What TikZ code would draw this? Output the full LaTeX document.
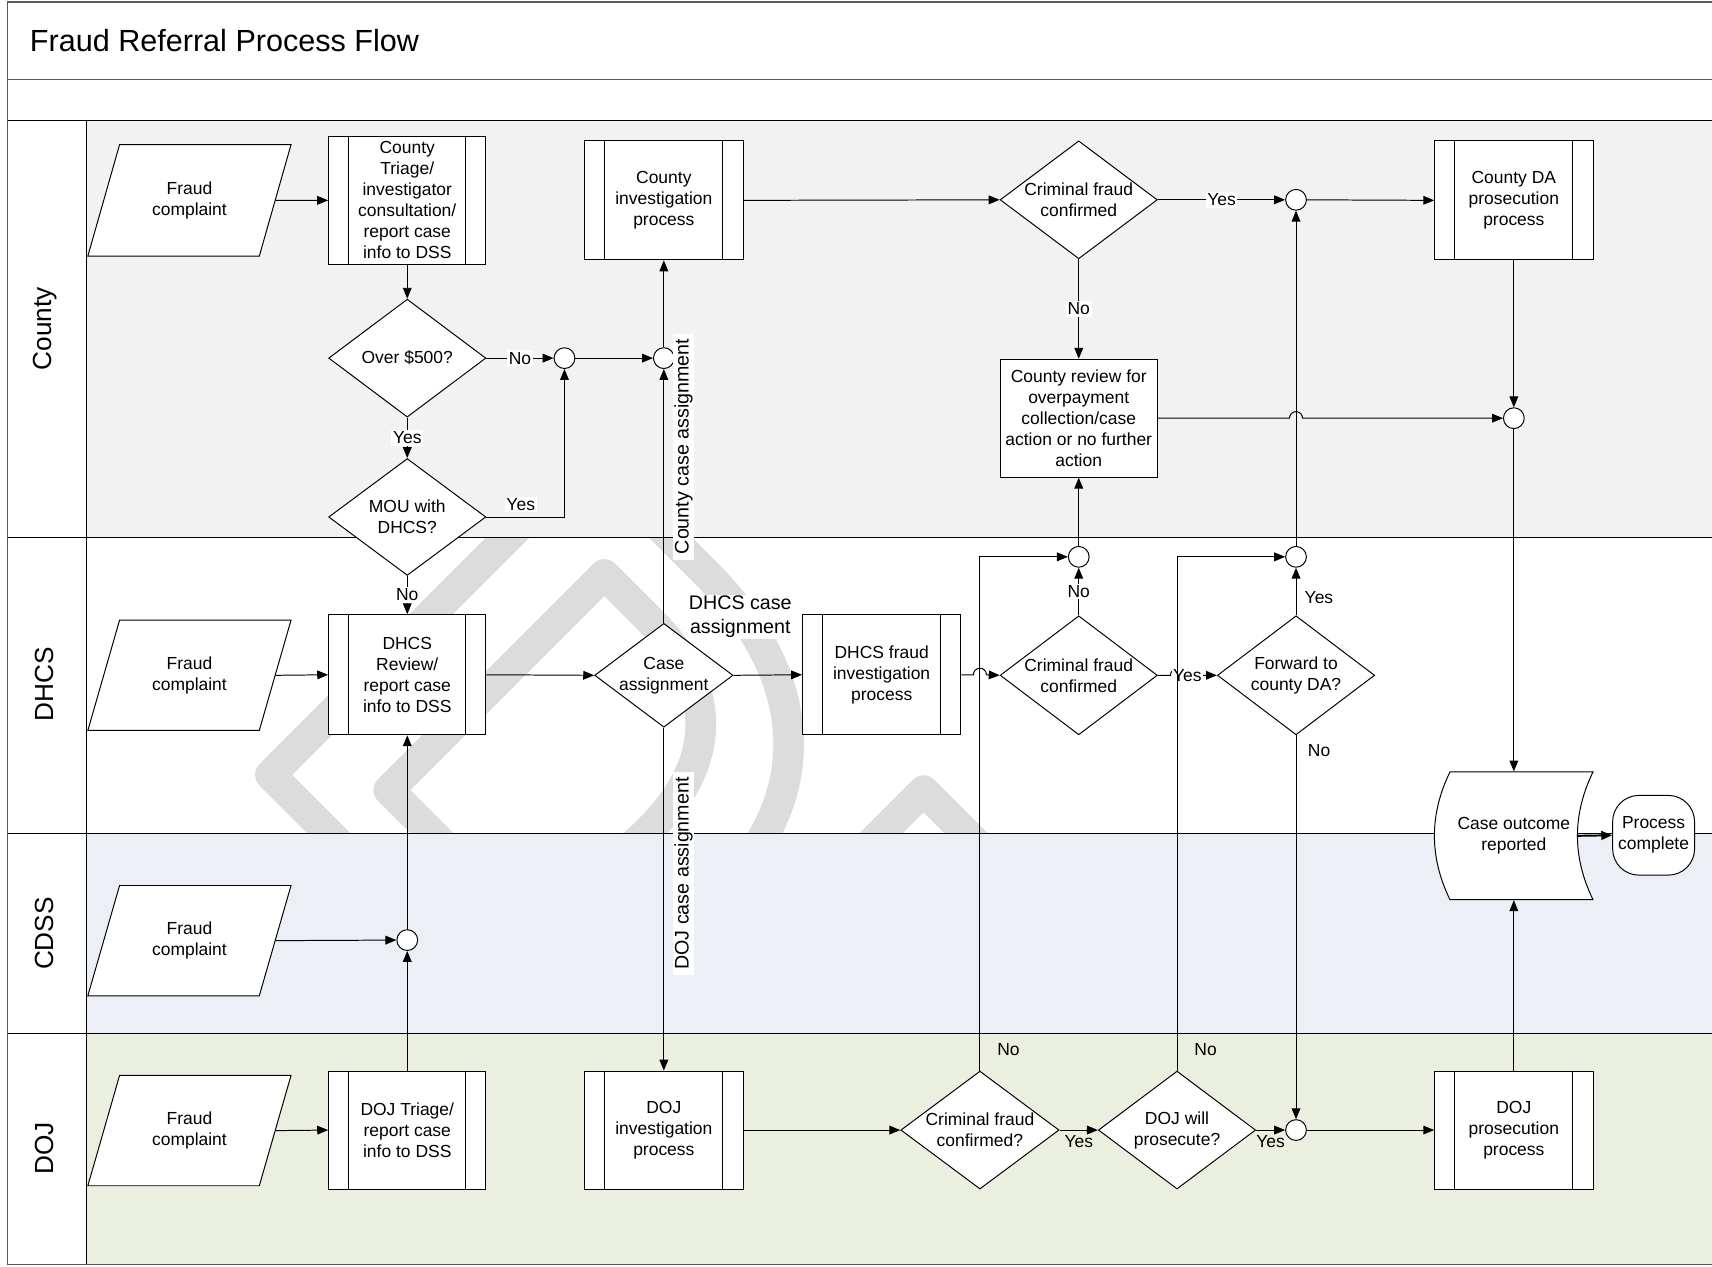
\documentclass[tikz,border=0pt]{standalone}
\usepackage{fontspec}
\setmainfont{Liberation Sans}
\usetikzlibrary{shapes.geometric,arrows.meta,calc}

\definecolor{countybg}{RGB}{242,242,242}
\definecolor{cdssbg}{RGB}{236,240,246}
\definecolor{dojbg}{RGB}{235,239,224}
\definecolor{wmgray}{RGB}{220,220,220}
\definecolor{framegray}{RGB}{90,90,90}

\newcommand{\nodefont}{\fontsize{16}{19.2}\selectfont}
\newcommand{\outlinetext}[1]{\special{pdf:literal direct 1 Tr 28 w 1 j 1 J 0.863 0.863 0.863 RG}#1\special{pdf:literal direct 0 Tr}}

\begin{document}
\begin{tikzpicture}[x=1pt,y=-1pt,line width=0.9pt,
  proc/.style={draw,fill=white,font=\nodefont,align=center,inner sep=0pt,
    minimum width=145pt,minimum height=109pt},
  dec/.style={diamond,aspect=1.333,draw,fill=white,font=\nodefont,align=center,
    inner sep=0pt,minimum width=144pt,minimum height=108pt},
  io/.style={trapezium,trapezium left angle=65.5,trapezium right angle=114.5,
    trapezium stretches=true,draw,fill=white,font=\nodefont,align=center,
    inner sep=0pt,minimum width=187pt,minimum height=102pt},
  jn/.style={circle,draw,fill=white,inner sep=0pt,minimum size=19pt},
  term/.style={draw,fill=white,rounded corners=24pt,font=\nodefont,align=center,
    inner sep=0pt,minimum width=75pt,minimum height=73pt},
  arr/.style={-{Triangle[length=10pt,width=8pt]}},
  lbl/.style={font=\nodefont,fill=white,inner sep=1.5pt},
  lblt/.style={font=\nodefont,inner sep=1.5pt},
  biglbl/.style={font=\fontsize{18}{21.6}\selectfont,fill=white,align=center,inner sep=1pt},
  vlbl/.style={font=\fontsize{18}{21.6}\selectfont,fill=white,rotate=90,inner xsep=5pt,inner ysep=1pt},
  lanelbl/.style={font=\fontsize{24}{28}\selectfont,rotate=90},
  wmark/.style={text=wmgray,font=\fontsize{600}{600}\selectfont\bfseries,inner sep=0pt}]

\useasboundingbox (0,0) rectangle (1568,1160);

% watermark, only seen in the white lane
\begin{scope}
  \clip (79,492) rectangle (1568,763);
  \node[wmark,rotate=-45,anchor=base west] (draft) at (219,681) {\outlinetext{DRAFT}};
\end{scope}

% lanes
\fill[countybg] (79,110) rectangle (1568,492);
\fill[cdssbg] (79,763) rectangle (1568,947);
\fill[dojbg] (79,947) rectangle (1568,1158);
\draw[framegray,line width=1.3pt] (1568,2) -- (7,2) -- (7,1158) -- (1568,1158);
\draw[framegray,line width=1.3pt] (7,73) -- (1568,73);
\draw[line width=1.1pt] (7,110) -- (1568,110);
\draw (79,110) -- (79,1158);
\foreach \y in {492,763,947}
  \draw (7,\y) -- (1568,\y);

\node[anchor=west,inner sep=0pt,font=\fontsize{28}{33}\selectfont] (title) at (27,37) {Fraud Referral Process Flow};
\node[lanelbl] (lcounty) at (41,301) {County};
\node[lanelbl] (ldhcs) at (41,627) {DHCS};
\node[lanelbl] (lcdss) at (41,855) {CDSS};
\node[lanelbl] (ldoj) at (41,1052) {DOJ};

% County
\node[io] (cfc) at (173.5,183.5) {Fraud\\complaint};
\node[proc,minimum width=144pt,minimum height=117pt] (ctri) at (373,183.5)
  {County\\Triage/\\investigator\\consultation/\\report case\\info to DSS};
\node[proc] (cinv) at (608,183.5) {County\\investigation\\process};
\node[dec] (ccrim) at (988,183) {Criminal fraud\\confirmed};
\node[jn] (cj1) at (1187,183) {};
\node[proc] (cda) at (1386.5,183.5) {County DA\\prosecution\\process};
\node[dec] (cover) at (373,328) {Over \$500?};
\node[jn] (cj2) at (517,328) {};
\node[jn] (cj3) at (608,328) {};
\node[dec,minimum height=107pt] (cmou) at (373,473.5) {MOU with\\DHCS?};
\node[proc,minimum width=144pt,minimum height=108pt] (crev) at (988,383)
  {County review for\\overpayment\\collection/case\\action or no further\\action};
\node[jn] (cj4) at (1386.5,383) {};

% DHCS
\node[io,minimum height=101pt] (dfc) at (173.5,618.5) {Fraud\\complaint};
\node[proc,minimum width=144pt,minimum height=110pt] (drev) at (373,618)
  {DHCS\\Review/\\report case\\info to DSS};
\node[dec,minimum width=126pt,minimum height=95pt] (dcase) at (608,618.5) {Case\\assignment};
\node[proc,minimum height=110pt] (dinv) at (807.5,618) {DHCS fraud\\investigation\\process};
\node[dec,minimum height=109pt] (dcrim) at (988,618.5) {Criminal fraud\\confirmed};
\node[jn] (dj1) at (988,510) {};
\node[dec,minimum height=109pt] (dfwd) at (1187,618.5) {Forward to\\county DA?};
\node[jn] (dj2) at (1187,510) {};
\path[draw,fill=white] (1328,707) -- (1459,707) .. controls (1440,746) and (1440,785) .. (1459,824)
  -- (1328,824) .. controls (1309,785) and (1309,746) .. (1328,707) -- cycle;
\node[font=\nodefont,align=center,inner sep=0pt,minimum width=145pt,minimum height=117pt]
  (outc) at (1386.5,765.5) {Case outcome\\reported};
\node[term] (done) at (1514.5,765) {Process\\complete};

% CDSS
\node[io,minimum height=101pt] (sfc) at (173.5,861.5) {Fraud\\complaint};
\node[jn] (sj) at (373,861) {};

% DOJ
\node[io,minimum height=101pt] (jfc) at (173.5,1035.5) {Fraud\\complaint};
\node[proc,minimum width=144pt,minimum height=108pt] (jtri) at (373,1035)
  {DOJ Triage/\\report case\\info to DSS};
\node[proc,minimum height=108pt] (jinv) at (608,1035) {DOJ\\investigation\\process};
\node[dec,minimum width=145pt] (jcrim) at (897.5,1035) {Criminal fraud\\confirmed?};
\node[dec] (jpro) at (1078,1035) {DOJ will\\prosecute?};
\node[jn] (jj) at (1187,1035) {};
\node[proc,minimum height=108pt] (jpros) at (1386.5,1035) {DOJ\\prosecution\\process};

\foreach \n in {ctri,cinv,cda,drev,dinv,jtri,jinv,jpros}
  \draw ([xshift=19pt]\n.north west) -- ([xshift=19pt]\n.south west)
        ([xshift=-19pt]\n.north east) -- ([xshift=-19pt]\n.south east);

% connectors
\draw[arr] (cfc.east) -- (ctri.west);
\draw[arr] (ctri.south) -- (cover.north);
\draw[arr] (cover.east) -- node[lbl] (lno1) {No} (cj2.west);
\draw[arr] (cj2.east) -- (cj3.west);
\draw[arr] (cover.south) -- node[lbl] (lyes1) {Yes} (cmou.north);
\draw[arr] (cmou.east) -| node[lbl,above=4pt,pos=.22] (lyes2) {Yes} (cj2.south);
\draw[arr] (cmou.south) -- node[lbl] (lno2) {No} (drev.north);
\draw[arr] (dcase.north) -- (cj3.south);
\draw[arr] (cj3.north) -- (cinv.south);
\draw[arr] (cinv.east) -- (ccrim.west);
\draw[arr] (ccrim.east) -- node[lbl] (lyes3) {Yes} (cj1.west);
\draw[arr] (cj1.east) -- (cda.west);
\draw[arr] (ccrim.south) -- node[lbl] (lno3) {No} (crev.north);
\draw[arr] (crev.east) -- ($(crev.east -| cj1)+(-6,0)$) arc[start angle=180,end angle=360,radius=6]
  -- (cj4.west);
\draw[arr] (cda.south) -- (cj4.north);
\draw[arr] (cj4.south) -- (outc.north);
\draw[arr] (dj1.north) -- (crev.south);
\draw[arr] (dcrim.north) -- node[lbl] (lno4) {No} (dj1.south);
\draw[arr] (dfc.east) -- (drev.west);
\draw[arr] (drev.east) -- (dcase.west);
\draw[arr] (dcase.east) -- (dinv.west);
\draw[arr] (dinv.east) -- ($(dinv.east -| jcrim)+(-6,0)$) arc[start angle=180,end angle=360,radius=6]
  -- (dcrim.west);
\draw[arr] (dcrim.east) -- ($(dcrim.east -| jpro)+(-6,0)$) arc[start angle=180,end angle=360,radius=6]
  -- (dfwd.west);
\node[lbl] (lyes4) at ($(dcrim.east)!.5!(dfwd.west)$) {Yes};
\draw[arr] (dfwd.north) -- node[lbl,right=6pt,pos=.38] (lyes5) {Yes} (dj2.south);
\draw[arr] (dj2.north) -- (cj1.south);
\draw[arr] (dfwd.south) -- node[lbl,right=9pt,pos=.04] (lno5) {No} (jj.north);
\draw[arr] (sfc.east) -- (sj.west);
\draw[arr] (jtri.north) -- (sj.south);
\draw[arr] (sj.north) -- (drev.south);
\draw[arr] (jfc.east) -- (jtri.west);
\draw[arr] (dcase.south) -- (jinv.north);
\draw[arr] (jinv.east) -- (jcrim.west);
\draw[arr] (jcrim.north) |- node[lblt,right=14pt,pos=.02] (lno6) {No} (dj1.west);
\draw[arr] (jcrim.east) -- node[lblt,below=3pt] (lyes6) {Yes} (jpro.west);
\draw[arr] (jpro.north) |- node[lblt,right=14pt,pos=.02] (lno7) {No} (dj2.west);
\draw[arr] (jpro.east) -- node[lblt,below=3pt] (lyes7) {Yes} (jj.west);
\draw[arr] (jj.east) -- (jpros.west);
\draw[arr] (jpros.north) -- (outc.south);
\draw[arr,line width=1.8pt] ([xshift=-14pt]outc.east) -- (done.west);

\node[biglbl] (lhcase) at (678,565) {DHCS case\\assignment};
\node[vlbl] (lccase) at (626,409) {County case assignment};
\node[vlbl] (ljcase) at (626,800) {DOJ case assignment};
\end{tikzpicture}
\end{document}
